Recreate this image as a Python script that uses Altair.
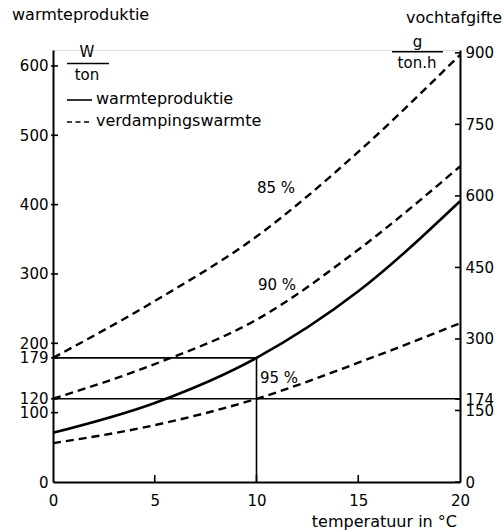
import altair as alt
import pandas as pd

# ---- data ----
temps = [0, 5, 10, 15, 20]
warmteproduktie = [71, 114, 179, 275, 405]          # W/ton (solid)
verd_85 = [179, 261, 354, 476, 616]                 # verdampingswarmte 85 %
verd_90 = [120, 170, 234, 335, 455]                 # verdampingswarmte 90 %
verd_95 = [56, 82, 120, 172, 229]                   # verdampingswarmte 95 %
dashed_names = ["85 %", "90 %", "95 %"]

left_ticks = [0, 100, 120, 179, 200, 300, 400, 500, 600]
right_ticks = [0, 150, 174, 300, 450, 600, 750, 900]
x_ticks = [0, 5, 10, 15, 20]

ref_temp = 10
ref_heat_10 = 179
ref_heat_95 = 120
x_max = 20

Y_LEFT_MAX = 623
Y_RIGHT_MAX = 906

W, H = 407, 432
FONT = "DejaVu Sans"

solid_df = pd.DataFrame({"t": temps, "v": warmteproduktie})
dashed_df = pd.DataFrame({
    "t": temps * 3,
    "v": verd_85 + verd_90 + verd_95,
    "s": [n for n in dashed_names for _ in temps],
})
rules_df = pd.DataFrame({
    "t": [0, 0, ref_temp],
    "t2": [ref_temp, x_max, ref_temp],
    "v": [ref_heat_10, ref_heat_95, 0],
    "v2": [ref_heat_10, ref_heat_95, ref_heat_10],
})
lt_df = pd.DataFrame({"v": [v for v in left_ticks if v > 0]})
bt_df = pd.DataFrame({"t": [v for v in x_ticks if 0 < v < x_max]})
rt_df = pd.DataFrame({"v": right_ticks})
one = pd.DataFrame({"a": [0]})

xs = alt.Scale(domain=[0, x_max], nice=False)
ysL = alt.Scale(domain=[0, Y_LEFT_MAX], nice=False)
ysR = alt.Scale(domain=[0, Y_RIGHT_MAX], nice=False)

common_axis = dict(ticks=False, tickSize=0, labelFontSize=15, labelFont=FONT,
                   labelColor="black", domainColor="black", domainWidth=2,
                   grid=False, title=None, labelFlush=False, labelOverlap=False)
x_axis = alt.Axis(values=x_ticks, orient="bottom", labelPadding=11, **common_axis)
yl_axis = alt.Axis(values=left_ticks, orient="left", labelPadding=5, **common_axis)
yr_axis = alt.Axis(values=right_ticks, orient="right", labelPadding=5, **common_axis)

X = alt.X("t:Q", scale=xs, axis=x_axis)
YL = alt.Y("v:Q", scale=ysL, axis=yl_axis)

solid = alt.Chart(solid_df).mark_line(color="black", strokeWidth=2.6, interpolate="monotone").encode(
    x=X, y=YL,
)
dashed = alt.Chart(dashed_df).mark_line(color="black", strokeWidth=2.4, strokeDash=[8, 5],
                                        interpolate="monotone").encode(
    x=X, y=YL, detail="s:N",
)
refrules = alt.Chart(rules_df).mark_rule(color="black", strokeWidth=1.6).encode(
    x=X, x2="t2:Q", y=YL, y2="v2:Q",
)
lticks = alt.Chart(lt_df).mark_rule(color="black", strokeWidth=1.6).encode(
    x=alt.value(-2), x2=alt.value(5), y=YL,
)
bticks = alt.Chart(bt_df).mark_rule(color="black", strokeWidth=1.6).encode(
    x=X, y=alt.value(H), y2=alt.value(H - 7),
)
rticks = alt.Chart(rt_df).mark_rule(color="black", strokeWidth=1.6).encode(
    x=alt.value(W - 5), x2=alt.value(W),
    y=alt.Y("v:Q", scale=ysR, axis=yr_axis),
)


def txt(s, x, y, size=15, align="left", baseline="alphabetic"):
    return alt.Chart(one).mark_text(text=s, align=align, baseline=baseline, font=FONT,
                                    fontSize=size, color="black").encode(
        x=alt.value(x), y=alt.value(y))


def hline(x1, x2, y, dash=None, sw=1.5):
    kw = dict(color="black", strokeWidth=sw)
    if dash:
        kw["strokeDash"] = dash
    return alt.Chart(one).mark_rule(**kw).encode(x=alt.value(x1), x2=alt.value(x2), y=alt.value(y))


annots = [
    txt("warmteproduktie", -41, -30, 16),
    txt("vochtafgifte", 449, -27, 16, align="right"),
    txt("W", 34, 7, 15, align="center"),
    hline(14, 56, 13.5),
    txt("ton", 34, 30, 15, align="center"),
    txt("g", 364.5, -3, 15, align="center"),
    hline(339, 390, 1.7),
    txt("ton.h", 364, 18, 15, align="center"),
    hline(14, 39, 50, sw=1.6),
    txt("warmteproduktie", 43, 54, 16),
    hline(14, 39, 72, dash=[5, 3.5], sw=1.6),
    txt("verdampingswarmte", 43, 76, 16),
    txt("85 %", 223, 143, 15, align="center"),
    txt("90 %", 224, 240, 15, align="center"),
    txt("95 %", 226, 333, 15, align="center"),
    txt("temperatuur in °C", 404, 477, 16, align="right"),
]

left_group = alt.layer(solid, dashed, refrules, lticks, bticks, *annots)
right_group = alt.layer(rticks)

chart = alt.layer(left_group, right_group).resolve_scale(y="independent").properties(
    width=W, height=H,
    padding={"left": 53, "top": 50, "right": 44, "bottom": 50},
    autosize=alt.AutoSizeParams(type="none"),
).configure_view(stroke=None).configure(background="white")

chart.save("out.html", embed_options={"renderer": "svg", "actions": False})
